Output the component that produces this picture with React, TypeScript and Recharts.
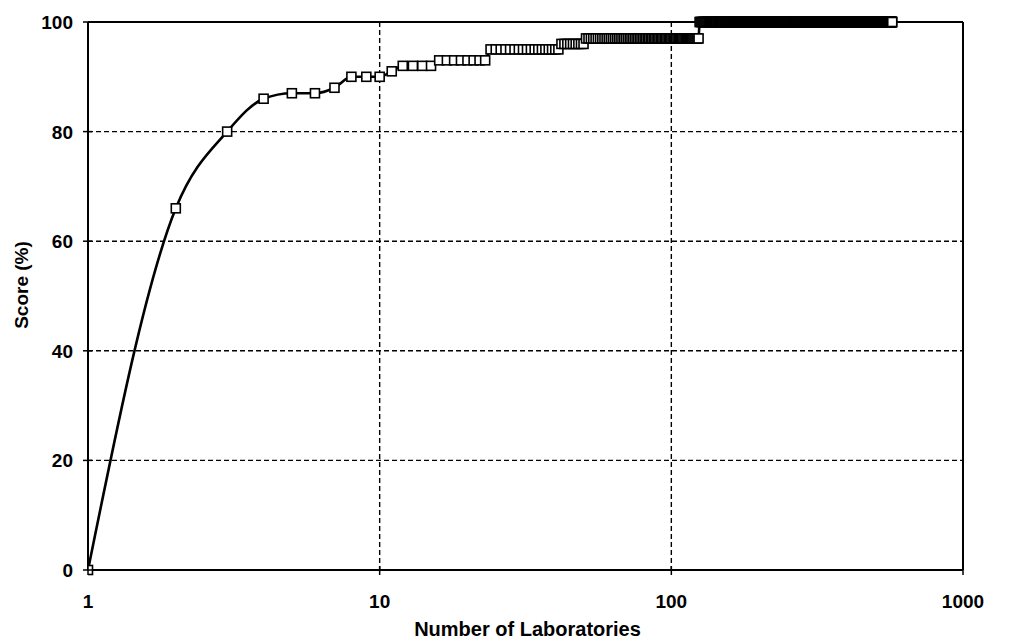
import React from 'react';
import { ComposedChart, Line, XAxis, YAxis, CartesianGrid, ReferenceLine } from 'recharts';

// score reached (%) and the laboratory count from which each level holds
const levelStart = [1, 2, 3, 4, 5, 7, 8, 11, 12, 16, 24, 42, 51, 125];
const levelScore = [0, 66, 80, 86, 87, 88, 90, 91, 92, 93, 95, 96, 97, 100];
const lastLab = 572;

const xTicks = [1, 10, 100, 1000];
const yTicks = [0, 20, 40, 60, 80, 100];

const data: { labs: number; score: number }[] = [];
levelStart.forEach((start, i) => {
  const end = i + 1 < levelStart.length ? levelStart[i + 1] - 1 : lastLab;
  for (let n = start; n <= end; n++) data.push({ labs: n, score: levelScore[i] });
});

const font = '"Liberation Sans", Arial, sans-serif';

const XTick = (props: any) => {
  const { x, y, payload } = props;
  return (
    <g>
      <line x1={x} x2={x} y1={y - 4} y2={y + 5} stroke="#000" strokeWidth={1.5} />
      <text x={x} y={y + 38} textAnchor="middle" fontFamily={font} fontWeight="bold" fontSize={19} fill="#000">
        {payload.value}
      </text>
    </g>
  );
};

const YTick = (props: any) => {
  const { x, y, payload } = props;
  return (
    <g>
      <line x1={x - 5} x2={x + 4} y1={y} y2={y} stroke="#000" strokeWidth={1.5} />
      <text x={x - 15} y={y + 7} textAnchor="end" fontFamily={font} fontWeight="bold" fontSize={19} fill="#000">
        {payload.value}
      </text>
    </g>
  );
};

const SquareDot = (props: any) => {
  const { cx, cy, index } = props;
  if (cx == null || cy == null) return <g key={index} />;
  return (
    <rect key={index} x={cx - 4.5} y={cy - 4.5} width={9} height={9} fill="#fff" stroke="#000" strokeWidth={1.6} />
  );
};

const XTitle = (props: any) => {
  const { viewBox } = props;
  return (
    <text x={viewBox.x + viewBox.width / 2 + 2} y={viewBox.y + 66} textAnchor="middle" fontFamily={font} fontWeight="bold" fontSize={20} fill="#000">
      Number of Laboratories
    </text>
  );
};

const YTitle = (props: any) => {
  const { viewBox } = props;
  const cx = viewBox.x + 21;
  const cy = viewBox.y + viewBox.height / 2 - 11;
  return (
    <text x={cx} y={cy} transform={`rotate(-90 ${cx} ${cy})`} textAnchor="middle" dominantBaseline="central" fontFamily={font} fontWeight="bold" fontSize={19} fill="#000">
      Score  (%)
    </text>
  );
};

export default function App() {
  return (
    <div style={{ position: 'absolute', left: 0, top: 0, width: 1016, height: 642, background: '#fff' }}>
      <ComposedChart width={1016} height={642} data={data} margin={{ top: 22, right: 53, left: 0, bottom: 0 }}>
        <CartesianGrid stroke="#000" strokeDasharray="5 3" strokeWidth={1.4} horizontalValues={yTicks} verticalValues={[10, 100]} />
        <XAxis
          dataKey="labs"
          type="number"
          scale="log"
          domain={[1, 1000]}
          ticks={xTicks}
          allowDataOverflow
          height={72}
          tickSize={0}
          tickMargin={0}
          tick={<XTick />}
          axisLine={{ stroke: '#000', strokeWidth: 2 }}
          label={<XTitle />}
          interval={0}
        />
        <YAxis
          type="number"
          domain={[0, 100]}
          ticks={yTicks}
          width={88}
          tickSize={0}
          tickMargin={0}
          tick={<YTick />}
          axisLine={{ stroke: '#000', strokeWidth: 2 }}
          label={<YTitle />}
          interval={0}
        />
        <ReferenceLine y={100} stroke="#000" strokeWidth={2} />
        <ReferenceLine x={1000} stroke="#000" strokeWidth={2} />
        <Line
          dataKey="score"
          type="monotone"
          stroke="#000"
          strokeWidth={2.6}
          dot={<SquareDot />}
          activeDot={false}
          isAnimationActive={false}
        />
      </ComposedChart>
    </div>
  );
}
